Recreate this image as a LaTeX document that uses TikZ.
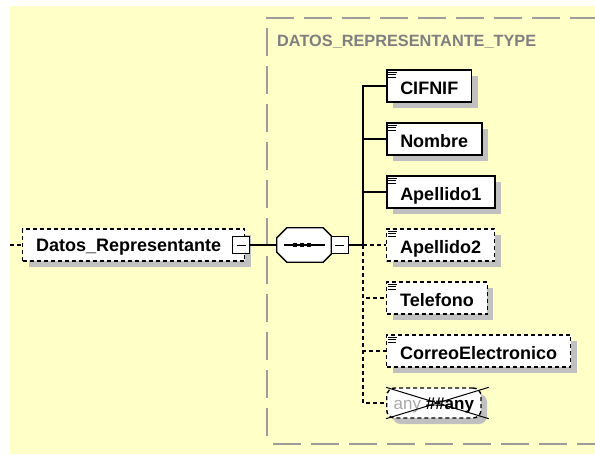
\documentclass[tikz,border=0pt]{standalone}
\usepackage{fontspec}
\setmainfont{Liberation Sans}
\usetikzlibrary{shadows}
\definecolor{bgyellow}{HTML}{FFFFC8}
\definecolor{shadowgray}{HTML}{C0C0C0}
\definecolor{typegray}{HTML}{9C9C9C}
\definecolor{titlegray}{HTML}{7F7F7F}
\definecolor{anygray}{HTML}{A8A8A8}
\tikzstyle{elem}=[draw=black, fill=white, line width=1.5pt, minimum height=32pt, inner xsep=13.5pt, inner ysep=0pt, font=\fontsize{18}{18}\selectfont\bfseries, text height=17pt, text depth=0pt, general shadow={fill=shadowgray, draw=none, shadow xshift=6pt, shadow yshift=-6pt}]
\tikzstyle{optional}=[line width=1.4pt, dash pattern=on 4pt off 3pt]
\tikzstyle{minusbox}=[draw=black, fill=white, line width=1pt, minimum size=17pt, inner sep=0pt]
\tikzstyle{seqbox}=[minimum width=54pt, minimum height=34pt, inner sep=0pt]
\tikzstyle{connector}=[line width=1.3pt]
\tikzstyle{typeline}=[draw=typegray, line width=2pt, dash pattern=on 28pt off 10pt]
\newcommand{\docicon}[1]{%
	\draw[line width=0.8pt] ([shift={(2,3)}]#1.north west) -- ++(9,0);
	\draw[line width=0.8pt] ([shift={(2,5.5)}]#1.north west) -- ++(8,0);
	\draw[line width=0.8pt] ([shift={(2,8)}]#1.north west) -- ++(8,0);}
\newcommand{\octpath}[1]{([xshift=10pt]#1.north west) -- ([xshift=-8pt]#1.north east) -- ([yshift=-8pt]#1.north east) -- ([yshift=8pt]#1.south east) -- ([xshift=-8pt]#1.south east) -- ([xshift=10pt]#1.south west) -- ([yshift=10pt]#1.south west) -- ([yshift=-10pt]#1.north west) -- cycle}

\begin{document}
\begin{tikzpicture}[x=1pt, y=-1pt]
	\useasboundingbox (0,0) rectangle (595,455);
	\fill[white] (0,0) rectangle (595,455);
	\fill[bgyellow] (10,6) rectangle (595,454);
	% complex type frame
	\draw[typeline] (266,18) -- (595,18);
	\draw[typeline, dash phase=28pt] (267,18) -- (267,444);
	\draw[typeline, dash phase=32pt] (267,444) -- (595,444);
	\node[anchor=base west, text=titlegray, font=\fontsize{16.3}{16.3}\selectfont\bfseries, inner sep=0pt] (title) at (277,46) {DATOS\_REPRESENTANTE\_TYPE};
	% element and sequence
	\coordinate (in) at (10,245);
	\node[elem, optional, anchor=west, text width=195pt, align=left, text height=12.7pt] (datos) at (22,245) {Datos\_Representante};
	\node[minusbox] (datosminus) at (241,245) {};
	\node[seqbox] (seq) at (304,245) {};
	\fill[shadowgray, shift={(6,6)}] \octpath{seq};
	\draw[line width=1.3pt, fill=white] \octpath{seq};
	\node[minusbox] (seqminus) at (339.5,245) {};
	\coordinate (bus) at (363,245);
	\draw[connector, optional] (in) -- (datos.west);
	\draw[connector] (datosminus.east) -- (seq.west);
	\draw[connector] (seqminus.east) -- (bus);
	\draw[line width=1pt] ([xshift=-4.5pt]datosminus.center) -- ([xshift=4.5pt]datosminus.center);
	\draw[line width=1pt] ([xshift=-4.5pt]seqminus.center) -- ([xshift=4.5pt]seqminus.center);
	\draw[line width=1.2pt] ([xshift=-20pt]seq.center) -- ([xshift=21pt]seq.center);
	\fill ([shift={(-11,-2)}]seq.center) rectangle ++(4,4);
	\fill ([shift={(-4,-2)}]seq.center) rectangle ++(4,4);
	\fill ([shift={(3,-2)}]seq.center) rectangle ++(4,4);
	% children
	\node[elem, anchor=west] (cifnif) at (386,86) {CIFNIF};
	\node[elem, anchor=west] (nombre) at (386,139) {Nombre};
	\node[elem, anchor=west] (apellido1) at (386,192) {Apellido1};
	\node[elem, optional, anchor=west] (apellido2) at (386,245) {Apellido2};
	\node[elem, optional, anchor=west] (telefono) at (386,298) {Telefono};
	\node[elem, optional, anchor=west] (correo) at (386,351) {CorreoElectronico};
	\node[elem, optional, anchor=west, rounded corners=8pt, minimum height=30pt, inner xsep=7pt, text height=13pt, font=\fontsize{17}{17}\selectfont\bfseries] (any) at (386,403) {{\color{anygray}\mdseries any} \#\#any};
	\draw[line width=1pt] (any.north west) -- ([xshift=7pt]any.south east);
	\draw[line width=1pt] (any.south west) -- ([xshift=7pt]any.north east);
	\docicon{cifnif}
	\docicon{nombre}
	\docicon{apellido1}
	\docicon{apellido2}
	\docicon{telefono}
	\docicon{correo}
	\draw[connector] (bus) |- (cifnif.west);
	\draw[connector] (bus) |- (nombre.west);
	\draw[connector] (bus) |- (apellido1.west);
	\draw[connector, optional] (bus) -- (apellido2.west);
	\draw[connector, optional] (bus) |- (telefono.west);
	\draw[connector, optional] (bus) |- (correo.west);
	\draw[connector, optional] (bus) |- (any.west);
\end{tikzpicture}
\end{document}
